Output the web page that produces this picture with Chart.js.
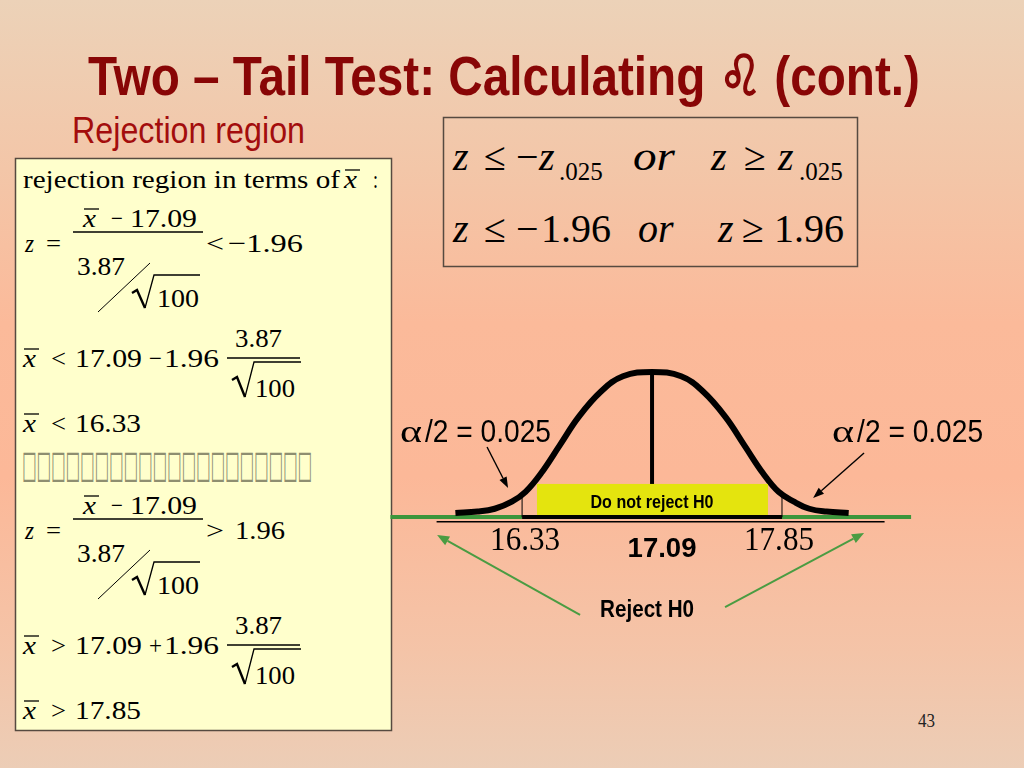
<!DOCTYPE html>
<html>
<head>
<meta charset="utf-8">
<script src="https://cdn.jsdelivr.net/npm/chart.js"></script>
<style>
html, body { margin: 0; padding: 0; }
body {
  width: 1024px; height: 768px; position: relative; overflow: hidden;
  background: linear-gradient(180deg, #ecd2b8 0%, #f3c6a8 22%, #fbba9a 42%, #fcb898 62%, #f4c4a8 85%, #eccdb6 100%);
}
#slide { position: absolute; left: 0; top: 0; }
#curve { position: absolute; left: 380px; top: 340px; }
</style>
</head>
<body>
<svg id="slide" width="1024" height="768"></svg>
<canvas id="curve" width="620" height="300"></canvas>
<script>
// sampling distribution of x-bar, heights (peak = 1)
var xValues = [15.94, 16.07, 16.17, 16.27, 16.35, 16.44, 16.55, 16.66, 16.79, 16.92, 17.09,
               17.26, 17.39, 17.52, 17.63, 17.74, 17.83, 17.92, 18.01, 18.11, 18.24];
var density = [0.00, 0.01, 0.03, 0.08, 0.15, 0.28, 0.48, 0.68, 0.86, 0.97, 1.00,
               0.97, 0.86, 0.68, 0.48, 0.28, 0.15, 0.08, 0.03, 0.01, 0.00];
var tickValues = [16.33, 17.09, 17.85];
var tickLabels = ['16.33', '17.09', '17.85'];
var alphaLabel = 'α/2 = 0.025';

var SERIF = '"Liberation Serif", "Times New Roman", serif';
var NARROW = '"Liberation Sans Narrow", "Arial Narrow", "Liberation Sans", sans-serif';
var SANS = '"Liberation Sans", Arial, sans-serif';

// ---------- static slide text (svg) ----------
var NS = 'http://www.w3.org/2000/svg';
var svg = document.getElementById('slide');
function el(tag, attrs, text) {
  var e = document.createElementNS(NS, tag);
  for (var k in attrs) e.setAttribute(k, attrs[k]);
  if (text != null) e.textContent = text;
  svg.appendChild(e);
  return e;
}
function t(x, y, s, w, size, extra) {
  var a = { x: x, y: y, 'font-family': SERIF, 'font-size': size || 26, fill: '#000' };
  if (w) { a.textLength = w; a.lengthAdjust = 'spacingAndGlyphs'; }
  for (var k in extra) a[k] = extra[k];
  return el('text', a, s);
}
function it(x, y, s, w, size) { return t(x, y, s, w, size, { 'font-style': 'italic' }); }
function line(x1, y1, x2, y2, w) {
  el('line', { x1: x1, y1: y1, x2: x2, y2: y2, stroke: '#000', 'stroke-width': w || 1.2 });
}
function xbar(x, y) { it(x, y, 'x', 13); line(x + 1, y - 18, x + 16, y - 18, 1.3); }
function radical(x, top, bottom, end) {
  el('path', { d: 'M' + x + ' ' + (top + 18) + ' L' + (x + 5) + ' ' + (top + 15) + ' L' + (x + 13) + ' ' + bottom,
               stroke: '#000', 'stroke-width': 2.4, fill: 'none' });
  el('path', { d: 'M' + (x + 13) + ' ' + bottom + ' L' + (x + 22) + ' ' + top + ' L' + end + ' ' + top,
               stroke: '#000', 'stroke-width': 1.3, fill: 'none' });
}

// title
t(88, 95, 'Two – Tail Test: Calculating ♌︎ (cont.)', 832, 56,
  { 'font-family': NARROW, 'font-weight': 'bold', fill: '#880606' });
t(72, 143, 'Rejection region', 233, 36, { 'font-family': NARROW, fill: '#a30d0d' });

// left box
el('rect', { x: 15.5, y: 158.5, width: 376, height: 572, fill: '#ffffcc', stroke: '#564a40', 'stroke-width': 1.5 });
t(23, 188, 'rejection region in terms of', 317);
xbar(344, 188);
t(373, 188, ':', 5);

function zFrac(dy, op, rhs, rhsX, rhsW) {
  xbar(83, 227 + dy);
  t(111, 227 + dy, '−', 12);
  t(130, 227 + dy, '17.09', 67);
  line(73, 232 + dy, 203, 232 + dy, 1.3);
  it(25, 252 + dy, 'z', 9);
  t(46, 252 + dy, '=', 15);
  t(206, 252 + dy, op, 18);
  t(rhsX, 252 + dy, rhs, rhsW);
  t(77, 275 + dy, '3.87', 48);
  line(98, 312 + dy, 150, 263 + dy, 1);
  radical(132, 275 + dy, 308 + dy, 200);
  t(157, 307 + dy, '100', 42);
}
function xLine(dy, op, sign) {
  xbar(23, 367 + dy);
  t(51, 367 + dy, op, 15);
  t(75, 367 + dy, '17.09', 67);
  t(149, 367 + dy, sign, 13);
  t(164, 367 + dy, '1.96', 55);
  t(235, 347 + dy, '3.87', 47);
  line(227, 358 + dy, 300, 358 + dy, 1.3);
  radical(232, 362 + dy, 397 + dy, 301);
  t(255, 397 + dy, '100', 40);
}
function xResult(dy, op, value) {
  xbar(23, 432 + dy);
  t(51, 432 + dy, op, 15);
  t(75, 432 + dy, value, 66);
}
zFrac(0, '<', '−1.96', 228, 75);
xLine(0, '<', '−');
xResult(0, '<', '16.33');
t(22, 477, '□□□□□□□□□□□□□□□□□□□□', 290, 38, { 'font-family': '"DejaVu Sans", sans-serif', fill: '#8e8e70' });
zFrac(287, '>', '1.96', 235, 50);
xLine(287, '>', '+');
xResult(287, '>', '17.85');

// right box
el('rect', { x: 443.5, y: 117.5, width: 414, height: 149, fill: 'none', stroke: '#564a40', 'stroke-width': 1.5 });
it(453, 170, 'z', 0, 40);
t(484, 170, '≤', 0, 40);
t(516, 170, '−', 0, 40);
it(539, 170, 'z', 0, 40);
t(559, 180, '.025', 0, 25);
it(633, 170, 'or', 42, 40);
it(711, 170, 'z', 0, 40);
t(744, 170, '≥', 0, 40);
it(778, 170, 'z', 0, 40);
t(799, 180, '.025', 0, 25);

it(453, 242, 'z', 0, 40);
t(484, 242, '≤', 0, 40);
t(516, 242, '−', 0, 40);
t(541, 242, '1.96', 0, 40);
it(638, 242, 'or', 0, 40);
it(718, 242, 'z', 0, 40);
t(742, 242, '≥', 0, 40);
t(774, 242, '1.96', 0, 40);

t(918, 727, '43', 17, 18, { fill: '#222' });

// ---------- the curve (chart.js) ----------
function fitText(c, s, x, y, font, width, align) {
  c.save();
  c.font = font;
  c.textBaseline = 'alphabetic';
  c.textAlign = 'left';
  var m = c.measureText(s).width;
  c.translate(align === 'center' ? x - width / 2 : x, y);
  c.scale(width / m, 1);
  c.fillText(s, 0, 0);
  c.restore();
}
function seg(c, x1, y1, x2, y2, color, w) {
  c.save();
  c.strokeStyle = color;
  c.lineWidth = w;
  c.beginPath();
  c.moveTo(x1, y1);
  c.lineTo(x2, y2);
  c.stroke();
  c.restore();
}
function arrow(c, x1, y1, x2, y2, color, w, len, half) {
  var a = Math.atan2(y2 - y1, x2 - x1);
  var bx = x2 - len * Math.cos(a), by = y2 - len * Math.sin(a);
  seg(c, x1, y1, bx, by, color, w);
  c.save();
  c.fillStyle = color;
  c.beginPath();
  c.moveTo(x2, y2);
  c.lineTo(bx + half * Math.sin(a), by - half * Math.cos(a));
  c.lineTo(bx - half * Math.sin(a), by + half * Math.cos(a));
  c.closePath();
  c.fill();
  c.restore();
}

var GREEN = '#3c963c';
var annotate = {
  id: 'annotate',
  beforeDatasetsDraw: function (chart) {
    var c = chart.ctx, X = chart.scales.x, Y = chart.scales.y;
    var lo = tickValues[0], hi = tickValues[2];
    var axisY = Y.getPixelForValue(-0.028);
    seg(c, X.getPixelForValue(15.83), Y.getPixelForValue(-0.062), X.getPixelForValue(18.45), Y.getPixelForValue(-0.062), '#000', 1.5);
    seg(c, X.getPixelForValue(15.56), axisY, X.getPixelForValue(lo), axisY, GREEN, 4);
    seg(c, X.getPixelForValue(hi), axisY, X.getPixelForValue(18.605), axisY, GREEN, 4);
    seg(c, X.getPixelForValue(lo), axisY, X.getPixelForValue(hi), axisY, '#000', 4);
  },
  afterDatasetsDraw: function (chart) {
    var c = chart.ctx, X = chart.scales.x, Y = chart.scales.y;
    var lo = tickValues[0], mid = tickValues[1], hi = tickValues[2];
    // critical value drop lines
    [lo, hi].forEach(function (v) {
      seg(c, X.getPixelForValue(v), Y.getPixelForValue(0.14), X.getPixelForValue(v), Y.getPixelForValue(-0.03), '#000', 1);
    });
    // mean line and acceptance box
    seg(c, X.getPixelForValue(mid), Y.getPixelForValue(1.0), X.getPixelForValue(mid), Y.getPixelForValue(0.2), '#000', 4);
    var bx1 = X.getPixelForValue(16.417), bx2 = X.getPixelForValue(17.768);
    var by1 = Y.getPixelForValue(0.206), by2 = Y.getPixelForValue(-0.028);
    c.fillStyle = '#e4e40e';
    c.fillRect(bx1, by1, bx2 - bx1, by2 - by1 - 2);
    c.fillStyle = '#000';
    fitText(c, 'Do not reject H0', X.getPixelForValue(mid), Y.getPixelForValue(0.035), 'bold 18px ' + NARROW, 123, 'center');

    // tick labels
    fitText(c, tickLabels[0], X.getPixelForValue(lo) + 3, Y.getPixelForValue(-0.262), '33px ' + SERIF, 70, 'center');
    fitText(c, tickLabels[1], X.getPixelForValue(mid) + 10, Y.getPixelForValue(-0.312), 'bold 28px ' + SANS, 69, 'center');
    fitText(c, tickLabels[2], X.getPixelForValue(hi) - 3, Y.getPixelForValue(-0.262), '33px ' + SERIF, 70, 'center');

    // alpha/2 labels
    var ay = Y.getPixelForValue(0.504);
    var parts = alphaLabel.split('/');
    [15.616, 18.143].forEach(function (v) {
      var px = X.getPixelForValue(v);
      fitText(c, parts[0], px, ay, '32px ' + SERIF, 22, 'left');
      fitText(c, '/' + parts[1], px + 25, ay, '32px ' + NARROW, 126, 'left');
    });
    arrow(c, X.getPixelForValue(16.125), Y.getPixelForValue(0.468), X.getPixelForValue(16.248), Y.getPixelForValue(0.177), '#000', 1.4, 11, 4);
    arrow(c, X.getPixelForValue(18.330), Y.getPixelForValue(0.426), X.getPixelForValue(18.032), Y.getPixelForValue(0.106), '#000', 1.4, 11, 4);

    // reject region pointers
    c.fillStyle = '#000';
    fitText(c, 'Reject H0', X.getPixelForValue(17.061), Y.getPixelForValue(-0.738), 'bold 24px ' + NARROW, 94, 'center');
    arrow(c, X.getPixelForValue(16.669), Y.getPixelForValue(-0.723), X.getPixelForValue(15.833), Y.getPixelForValue(-0.156), '#4a9c42', 2, 12, 5);
    arrow(c, X.getPixelForValue(17.517), Y.getPixelForValue(-0.667), X.getPixelForValue(18.330), Y.getPixelForValue(-0.142), '#4a9c42', 2, 12, 5);
  }
};

new Chart(document.getElementById('curve'), {
  type: 'line',
  data: {
    datasets: [{
      data: xValues.map(function (x, i) { return { x: x, y: density[i] }; }),
      borderColor: '#000',
      borderWidth: 6,
      pointRadius: 0,
      fill: false,
      tension: 0.4
    }]
  },
  options: {
    responsive: false,
    animation: false,
    layout: { autoPadding: false, padding: 0 },
    plugins: { legend: { display: false }, tooltip: { enabled: false } },
    scales: {
      x: { type: 'linear', min: 15.499, max: 19.125, display: false },
      y: { min: -0.901, max: 1.227, display: false }
    }
  },
  plugins: [annotate]
});
</script>
</body>
</html>
